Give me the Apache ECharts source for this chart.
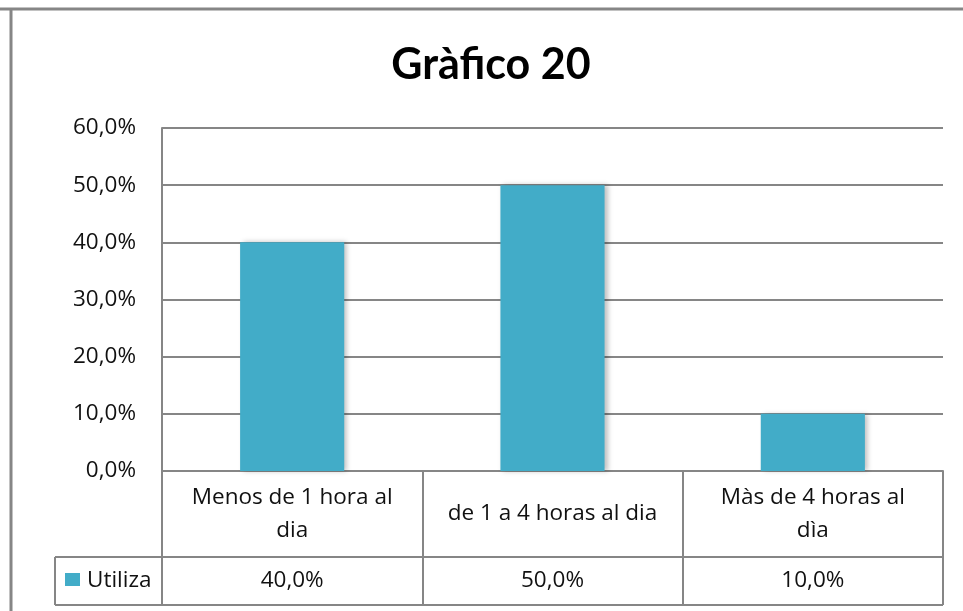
<!DOCTYPE html>
<html>
<head>
<meta charset="utf-8">
<script src="https://cdn.jsdelivr.net/npm/echarts@6/dist/echarts.min.js"></script>
<style>
html,body{margin:0;padding:0;background:#fff;}
#c{width:963px;height:611px;}
</style>
</head>
<body>
<div id="c"></div>
<script>
var titleText = 'Gràfico 20';
var categories = ['Menos de 1 hora al\ndia', 'de 1 a 4 horas al dia', 'Màs de 4 horas al\ndìa'];
var seriesName = 'Utiliza';
var values = [40.0, 50.0, 10.0];
var yTicks = [0, 10, 20, 30, 40, 50, 60];

function pct(v) { return v.toFixed(1).replace('.', ',') + '%'; }

var FONT = '"Open Sans", Lato, sans-serif';
var TFONT = 'Lato, "Open Sans", sans-serif';
var GRAY = '#868686';
var L = 162, R = 943, T = 128, B = 471;
var headerH = 86, rowH = 48, legendLeft = 55;
var barColor = '#42acc8';
var FS = 22.5;

var chart = echarts.init(document.getElementById('c'), null, {renderer: 'canvas'});
var option = {
  animation: false,
  backgroundColor: '#fff',
  grid: {left: L, right: 963 - R, top: T, bottom: 611 - B, containLabel: false},
  xAxis: [{
    type: 'category', data: categories, position: 'bottom',
    axisLine: {show: true, lineStyle: {color: GRAY, width: 2}},
    axisTick: {show: true, length: headerH, interval: 0, lineStyle: {color: GRAY, width: 2}},
    axisLabel: {interval: 0, margin: headerH / 2, verticalAlign: 'middle', fontFamily: FONT, fontSize: FS, color: '#111', lineHeight: 33, align: 'center'},
    splitLine: {show: false}
  }, {
    type: 'category', data: values.map(pct), position: 'bottom', offset: headerH,
    axisLine: {show: true, lineStyle: {color: GRAY, width: 2}},
    axisTick: {show: true, length: rowH, interval: 0, lineStyle: {color: GRAY, width: 2}},
    axisLabel: {interval: 0, margin: rowH / 2, verticalAlign: 'middle', fontFamily: FONT, fontSize: FS, color: '#111'}
  }],
  yAxis: {
    type: 'value', min: yTicks[0], max: yTicks[yTicks.length - 1], interval: yTicks[1] - yTicks[0],
    axisLine: {show: true, lineStyle: {color: GRAY, width: 2}},
    axisTick: {show: false},
    axisLabel: {fontFamily: FONT, fontSize: FS, color: '#111', margin: 26, formatter: function (v) { return pct(v); }},
    splitLine: {show: true, lineStyle: {color: GRAY, width: 2}}
  },
  series: [{
    name: seriesName, type: 'bar', data: values, barWidth: '40%', xAxisIndex: 0,
    itemStyle: {color: barColor, shadowColor: 'rgba(0,0,0,0.25)', shadowBlur: 5, shadowOffsetX: 3, shadowOffsetY: 0}
  }],
  graphic: [
    {type: 'text', x: 491, y: 65, style: {text: titleText, fontFamily: TFONT, fontWeight: 'bold', fontSize: 43, fill: '#000', textAlign: 'center', textVerticalAlign: 'middle'}},
    {type: 'line', shape: {x1: 0, y1: 9, x2: 963, y2: 9}, style: {stroke: GRAY, lineWidth: 3}},
    {type: 'line', shape: {x1: 11, y1: 8, x2: 11, y2: 611}, style: {stroke: GRAY, lineWidth: 3}},
    {type: 'line', shape: {x1: legendLeft, y1: B + headerH, x2: L, y2: B + headerH}, style: {stroke: GRAY, lineWidth: 2}},
    {type: 'line', shape: {x1: legendLeft, y1: B + headerH + rowH, x2: R, y2: B + headerH + rowH}, style: {stroke: GRAY, lineWidth: 2}},
    {type: 'line', shape: {x1: legendLeft, y1: B + headerH, x2: legendLeft, y2: B + headerH + rowH}, style: {stroke: GRAY, lineWidth: 2}},
    {type: 'rect', shape: {x: 65, y: 573, width: 15, height: 13}, style: {fill: barColor}},
    {type: 'text', x: 87, y: B + headerH + rowH / 2, style: {text: seriesName, fontFamily: FONT, fontSize: FS, fill: '#111', verticalAlign: 'middle'}}
  ]
};
chart.setOption(option);
</script>
</body>
</html>
